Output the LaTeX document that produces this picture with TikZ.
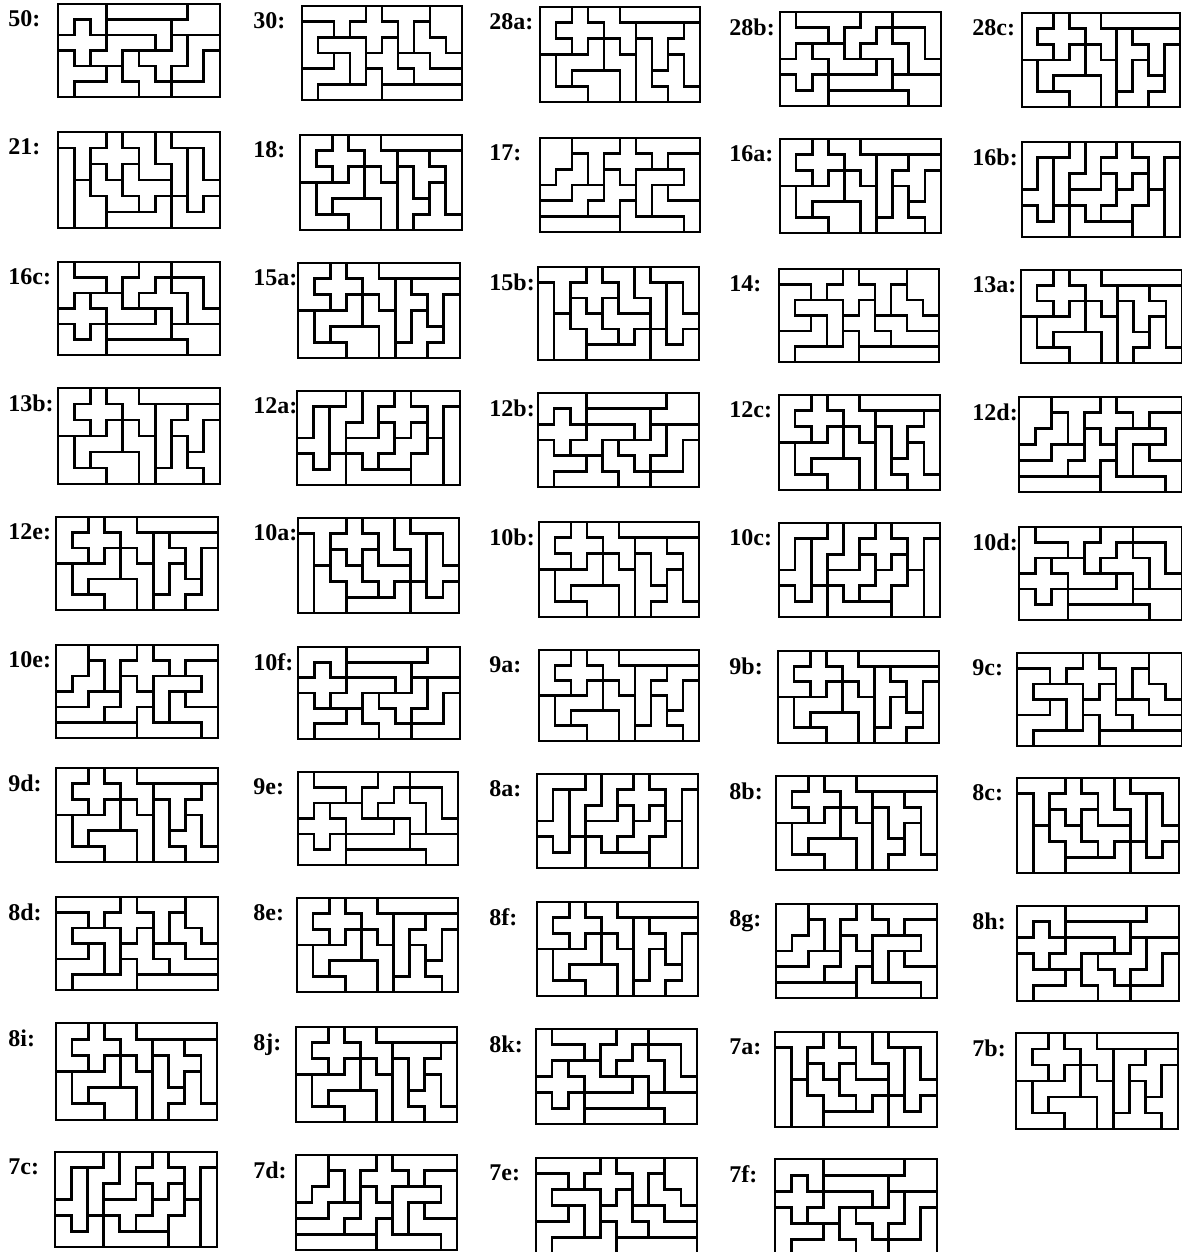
\documentclass[tikz,border=0pt]{standalone}
\usepackage{fontspec}
\setmainfont{Liberation Serif}
\newcount\pcol
\def\setrow#1#2{\def\currow{#1}\global\pcol=0 \setrowchars#2\relax}
\def\setrowchars#1{\ifx#1\relax\else\global\advance\pcol by 1 \expandafter\xdef\csname pg@\currow @\the\pcol\endcsname{#1}\expandafter\setrowchars\fi}
\newcommand\setgrid[6]{\setrow1{#1}\setrow2{#2}\setrow3{#3}\setrow4{#4}\setrow5{#5}\setrow6{#6}}
\newcommand\drawpanel[7]{%
  \pgfmathsetmacro\pcw{(#5-#3)/10}%
  \pgfmathsetmacro\pch{(#6-#4)/6}%
  \node[lab] (lab#1) at (#7,#4+6) {#2};
  \foreach \ri in {1,...,6}{\foreach \ci in {1,...,9}{%
     \pgfmathtruncatemacro\cn{\ci+1}%
     \edef\cellA{\csname pg@\ri @\ci\endcsname}\edef\cellB{\csname pg@\ri @\cn\endcsname}%
     \ifx\cellA\cellB\else\draw[wall] ({#3+\ci*\pcw},{#4+(\ri-1)*\pch}) -- ({#3+\ci*\pcw},{#4+\ri*\pch});\fi}}
  \foreach \ri in {1,...,5}{\foreach \ci in {1,...,10}{%
     \pgfmathtruncatemacro\rn{\ri+1}%
     \edef\cellA{\csname pg@\ri @\ci\endcsname}\edef\cellB{\csname pg@\rn @\ci\endcsname}%
     \ifx\cellA\cellB\else\draw[wall] ({#3+(\ci-1)*\pcw},{#4+\ri*\pch}) -- ({#3+\ci*\pcw},{#4+\ri*\pch});\fi}}
  \draw[frame] (#3,#4) rectangle (#5,#6);
}
% tilings (6 rows x 10 columns, one letter per piece)
\newcommand\gA{\setgrid{UUUIIIIIPP}{UXULLLLPPP}{XXXNNNLFZZ}{TXNNWFFFZV}{TTTYWWFZZV}{TYYYYWWVVV}}
\newcommand\gAV{\setgrid{TYYYYWWVVV}{TTTYWWFZZV}{TXNNWFFFZV}{XXXNNNLFZZ}{UXULLLLPPP}{UUUIIIIIPP}}
\newcommand\gB{\setgrid{YYYYXTTTPP}{UUYXXXTWPP}{UVVVXFTWWP}{UUZVFFNNWW}{ZZZVLFFNNN}{ZLLLLIIIII}}
\newcommand\gC{\setgrid{TTTXZZNVVV}{ITXXXZNNYV}{ITWXFZZNYV}{IPWWFFFNYY}{IPPWWFLUYU}{IPPLLLLUUU}}
\newcommand\gD{\setgrid{UUXWWIIIII}{UXXXWWTTTY}{UUXZNWLTYY}{VZZZNNLTFY}{VZPPPNLFFY}{VVVPPNLLFF}}
\newcommand\gE{\setgrid{UUXWWIIIII}{UXXXWWYTTT}{UUXZNWYYTL}{VZZZNNYFTL}{VZPPPNYFFL}{VVVPPNFFLL}}
\newcommand\gF{\setgrid{UUXWWIIIII}{UXXXWWLLFF}{UUXZNWLFFY}{VZZZNNLTFY}{VZPPPNLTYY}{VVVPPNTTTY}}
\newcommand\gG{\setgrid{UUXWWIIIII}{UXXXWWFFLL}{UUXZNWYFFL}{VZZZNNYFTL}{VZPPPNYYTL}{VVVPPNYTTT}}
\newcommand\gH{\setgrid{PPTTTXYYYY}{PPWTXXXYUU}{PWWTFXVVVU}{WWNNFFVZUU}{NNNFFLVZZZ}{IIIIILLLLZ}}
\newcommand\gJ{\setgrid{VVVNZZXTTT}{VYNNZXXXTI}{VYNZZFXWTI}{YYNFFFWWPI}{UYULFWWPPI}{UUULLLLPPI}}
\begin{document}
\begin{tikzpicture}[x=0.5pt,y=-0.5pt,
  wall/.style={line width=1.35pt,line cap=rect},
  frame/.style={line width=1.45pt,line join=miter},
  lab/.style={anchor=north west,inner sep=0pt,font=\fontsize{12}{13}\selectfont\bfseries}]
\useasboundingbox (0,0) rectangle (1182,1252);
% row 1
\gA  \drawpanel{50}{50:}{58}{4}{220}{97}{8}
\gB  \drawpanel{30}{30:}{302}{6}{462}{100}{253}
\gD  \drawpanel{28a}{28a:}{540}{7}{700}{102}{489}
\gAV \drawpanel{28b}{28b:}{780}{12}{941}{106}{729}
\gE  \drawpanel{28c}{28c:}{1022}{13}{1180}{107}{972}
% row 2
\gC  \drawpanel{21}{21:}{58}{132}{220}{228}{8}
\gG  \drawpanel{18}{18:}{300}{135}{462}{230}{253}
\gH  \drawpanel{17}{17:}{540}{138}{700}{232}{489}
\gF  \drawpanel{16a}{16a:}{780}{139}{941}{233}{729}
\gJ  \drawpanel{16b}{16b:}{1022}{142}{1180}{237}{972}
% row 3
\gAV \drawpanel{16c}{16c:}{58}{262}{220}{355}{8}
\gE  \drawpanel{15a}{15a:}{298}{263}{460}{358}{253}
\gC  \drawpanel{15b}{15b:}{538}{267}{699}{360}{489}
\gB  \drawpanel{14}{14:}{779}{269}{939}{362}{729}
\gG  \drawpanel{13a}{13a:}{1021}{270}{1182}{363}{972}
% row 4
\gF  \drawpanel{13b}{13b:}{58}{388}{220}{484}{8}
\gJ  \drawpanel{12a}{12a:}{297}{391}{460}{485}{253}
\gA  \drawpanel{12b}{12b:}{538}{393}{699}{487}{489}
\gD  \drawpanel{12c}{12c:}{779}{395}{940}{490}{729}
\gH  \drawpanel{12d}{12d:}{1019}{397}{1182}{492}{972}
% row 5
\gE  \drawpanel{12e}{12e:}{56}{517}{218}{610}{8}
\gC  \drawpanel{10a}{10a:}{298}{518}{459}{613}{253}
\gG  \drawpanel{10b}{10b:}{539}{522}{699}{617}{489}
\gJ  \drawpanel{10c}{10c:}{779}{523}{940}{617}{729}
\gAV \drawpanel{10d}{10d:}{1019}{527}{1182}{620}{972}
% row 6
\gH  \drawpanel{10e}{10e:}{56}{645}{218}{738}{8}
\gA  \drawpanel{10f}{10f:}{298}{647}{460}{739}{253}
\gF  \drawpanel{9a}{9a:}{539}{650}{699}{741}{489}
\gE  \drawpanel{9b}{9b:}{778}{651}{939}{743}{729}
\gB  \drawpanel{9c}{9c:}{1017}{653}{1182}{746}{972}
% row 7
\gD  \drawpanel{9d}{9d:}{56}{768}{218}{862}{8}
\gAV \drawpanel{9e}{9e:}{298}{772}{458}{865}{253}
\gJ  \drawpanel{8a}{8a:}{537}{774}{698}{868}{489}
\gG  \drawpanel{8b}{8b:}{776}{776}{937}{870}{729}
\gC  \drawpanel{8c}{8c:}{1017}{778}{1179}{873}{972}
% row 8
\gB  \drawpanel{8d}{8d:}{56}{897}{218}{990}{8}
\gF  \drawpanel{8e}{8e:}{297}{898}{458}{992}{253}
\gE  \drawpanel{8f}{8f:}{537}{902}{698}{996}{489}
\gH  \drawpanel{8g}{8g:}{776}{904}{937}{998}{729}
\gA  \drawpanel{8h}{8h:}{1017}{906}{1179}{1001}{972}
% row 9
\gG  \drawpanel{8i}{8i:}{56}{1023}{217}{1120}{8}
\gD  \drawpanel{8j}{8j:}{296}{1027}{457}{1122}{253}
\gAV \drawpanel{8k}{8k:}{536}{1029}{697}{1124}{489}
\gC  \drawpanel{7a}{7a:}{775}{1032}{937}{1127}{729}
\gF  \drawpanel{7b}{7b:}{1016}{1033}{1178}{1129}{972}
% row 10
\gJ  \drawpanel{7c}{7c:}{55}{1152}{217}{1247}{8}
\gH  \drawpanel{7d}{7d:}{296}{1155}{457}{1250}{253}
\gB  \drawpanel{7e}{7e:}{536}{1158}{697}{1253}{489}
\gA  \drawpanel{7f}{7f:}{775}{1159}{937}{1256}{729}
\end{tikzpicture}
\end{document}
